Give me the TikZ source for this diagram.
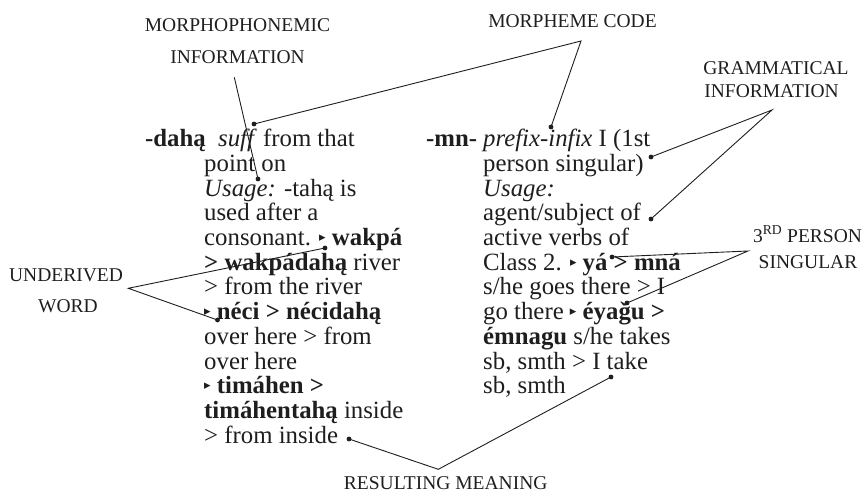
\documentclass[tikz,border=0pt]{standalone}
\usepackage{fontspec}
\setmainfont{Liberation Serif}
\newfontfamily\symfont{DejaVu Sans}
\definecolor{ink}{HTML}{1E1E1E}
% small black triangle that opens each example
\newcommand\tri{\raisebox{4pt}{\symfont\fontsize{13}{13}\selectfont ▸}}

\tikzset{
  body/.style={anchor=base west, inner sep=0pt, font=\fontsize{24.8}{24.7}\selectfont, text=ink},
  lab/.style={anchor=base, inner sep=0pt, font=\fontsize{19.5}{19.5}\selectfont, text=ink},
  conn/.style={draw=ink, line width=0.9pt},
  blob/.style={fill=ink},
}

\begin{document}
\begin{tikzpicture}[x=1pt,y=-1pt]
\useasboundingbox (0,0) rectangle (863,495);

% ---- entry: -dahą ----
\node[body] (dh)  at (145,146.7) {\textbf{-dahą}};
\node[body] (l1)  at (218,146.7) {\textit{suff} from that};
\node[body] (l2)  at (204,171.4) {point on};
\node[body] (l3)  at (204,196.1) {\textit{Usage:} -tahą is};
\node[body] (l4)  at (204,220.8) {used after a};
\node[body] (l5)  at (204,245.5) {consonant. \tri\ \textbf{wakpá}};
\node[body] (l6)  at (204,270.2) {\textbf{> wakpádahą} river};
\node[body] (l7)  at (204,294.9) {> from the river};
\node[body] (l8)  at (204,319.6) {\tri\ \textbf{néci > nécidahą}};
\node[body] (l9)  at (204,344.3) {over here > from};
\node[body] (l10) at (204,369.0) {over here};
\node[body] (l11) at (204,393.7) {\tri\ \textbf{timáhen >}};
\node[body] (l12) at (204,418.4) {\textbf{timáhentahą} inside};
\node[body] (l13) at (204,443.1) {> from inside};

% ---- entry: -mn- ----
\node[body] (mn)  at (426,146.7) {\textbf{-mn-}};
\node[body] (r1)  at (483,146.7) {\textit{prefix-infix} I (1st};
\node[body] (r2)  at (483,171.4) {person singular)};
\node[body] (r3)  at (483,196.1) {\textit{Usage:}};
\node[body] (r4)  at (483,220.8) {agent/subject of};
\node[body] (r5)  at (483,245.5) {active verbs of};
\node[body] (r6)  at (483,270.2) {Class 2. \tri\ \textbf{yá > mná}};
\node[body] (r7)  at (483,294.9) {s/he goes there > I};
\node[body] (r8)  at (483,319.6) {go there \tri\ \textbf{éyaǧu >}};
\node[body] (r9)  at (483,344.3) {\textbf{émnagu} s/he takes};
\node[body] (r10) at (483,369.0) {sb, smth > I take};
\node[body] (r11) at (483,393.7) {sb, smth};

% ---- callout labels ----
\node[lab] (mph1) at (237.5,32) {MORPHOPHONEMIC};
\node[lab] (mph2) at (237.5,64) {INFORMATION};
\node[lab] (mc)   at (572.5,28) {MORPHEME CODE};
\node[lab] (gr1)  at (776,75)   {GRAMMATICAL};
\node[lab] (gr2)  at (771.5,98) {INFORMATION};
\node[lab] (tp1)  at (807.5,242) {3\textsuperscript{RD} PERSON};
\node[lab] (tp2)  at (808,268.5) {SINGULAR};
\node[lab] (ud1)  at (66,281.7) {UNDERIVED};
\node[lab] (ud2)  at (68,312.7) {WORD};
\node[lab] (rm)   at (445.7,489) {RESULTING MEANING};

% ---- line ends and corners ----
\coordinate (mphEnd) at (234.3,77.3);
\coordinate (mphDot) at (258,179);
\coordinate (mcV)    at (581,41);
\coordinate (mcL)    at (254,124);
\coordinate (mcR)    at (551,127);
\coordinate (grV)    at (772,110);
\coordinate (grA)    at (651,157);
\coordinate (grB)    at (651,219);
\coordinate (tpV)    at (748,251);
\coordinate (tpA)    at (612,257);
\coordinate (tpB)    at (627,303);
\coordinate (udV)    at (128.3,288.3);
\coordinate (udA)    at (325,248);
\coordinate (udB)    at (217.5,320);
\coordinate (rmV)    at (438.3,469.3);
\coordinate (rmA)    at (349,439);
\coordinate (rmB)    at (611,377);

% ---- connectors ----
\draw[conn] (mphEnd) -- (mphDot);
\draw[conn] (mcL) -- (mcV) -- (mcR);
\draw[conn] (grA) -- (grV) -- (grB);
\draw[conn] (tpA) -- (tpV) -- (tpB);
\draw[conn] (udA) -- (udV) -- (udB);
\draw[conn] (rmA) -- (rmV) -- (rmB);

\foreach \p in {mphDot,mcL,mcR,grA,grB,tpA,tpB,udA,udB,rmA,rmB}
  \fill[blob] (\p) circle (2.4pt);
\end{tikzpicture}
\end{document}
